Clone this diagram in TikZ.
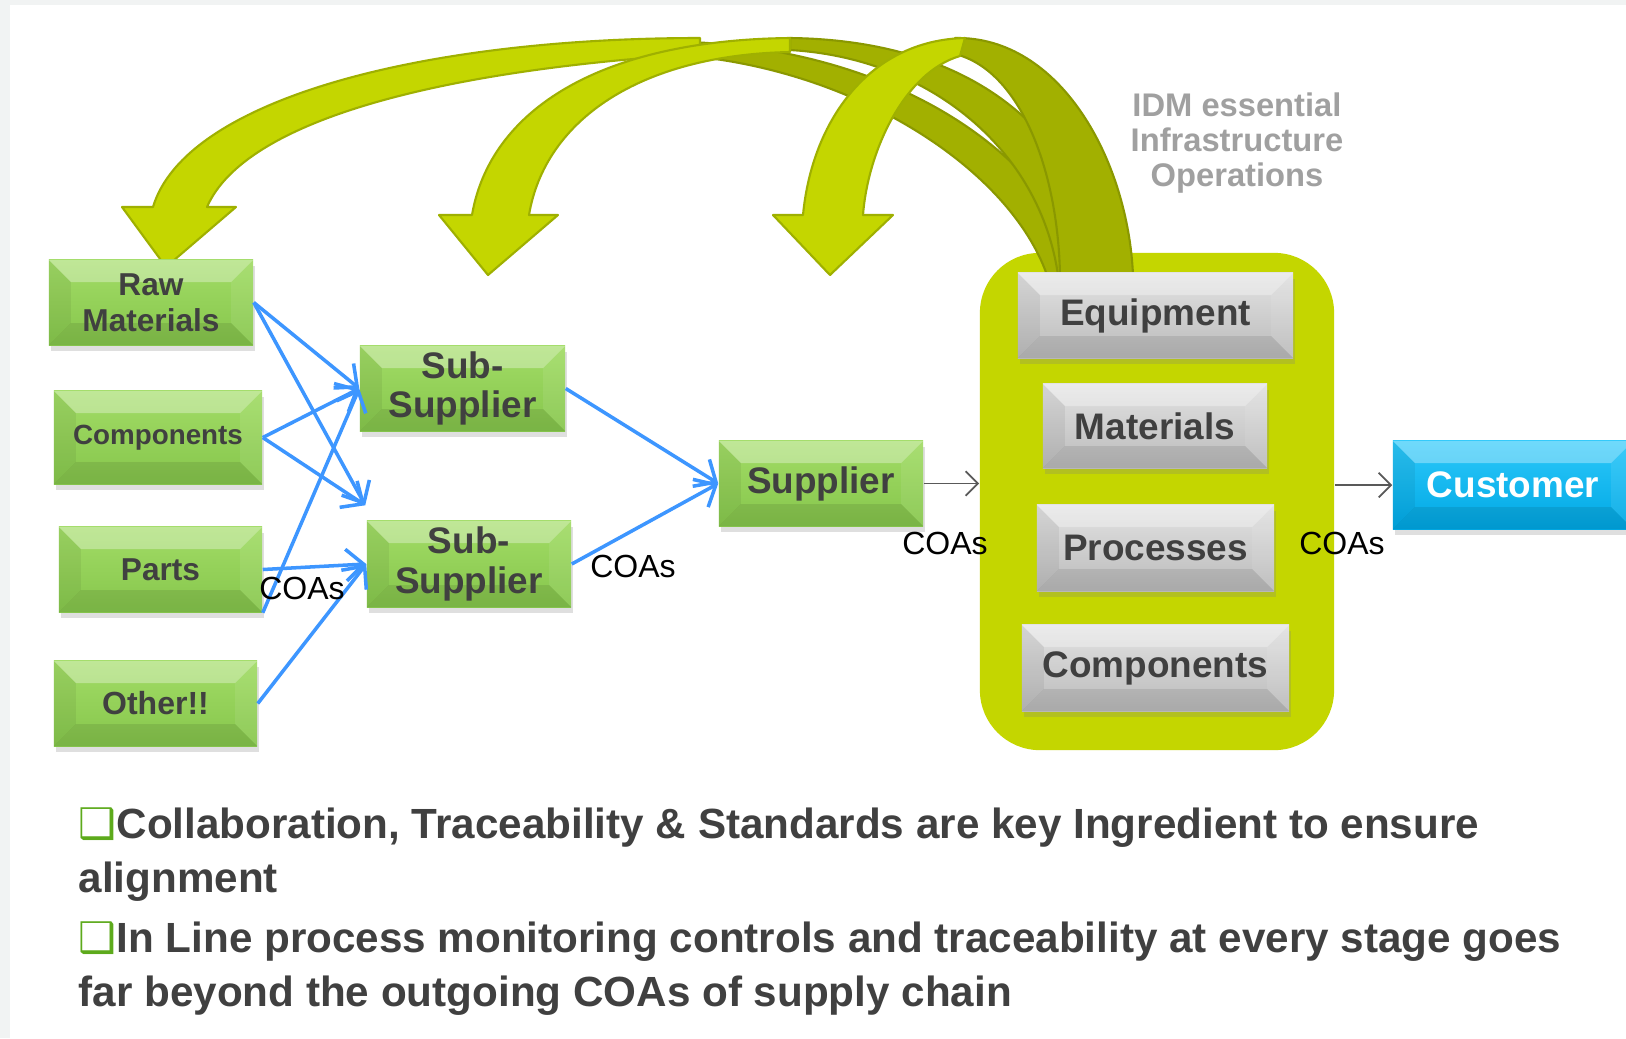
\documentclass[tikz,border=0pt]{standalone}
\usepackage{fontspec}
\setmainfont{Liberation Sans}
\newfontfamily\symbfont{DejaVu Sans}
\usetikzlibrary{arrows.meta, calc, shadows}

\definecolor{grtop}{HTML}{A2DC66}
\definecolor{grbot}{HTML}{86C64C}
\definecolor{gytop}{HTML}{E2E2E2}
\definecolor{gybot}{HTML}{BBBBBB}
\definecolor{cytop}{HTML}{2CC8FA}
\definecolor{cybot}{HTML}{00A8E4}
\definecolor{idmfill}{HTML}{C4D600}
\definecolor{idmedge}{HTML}{9FB000}
\definecolor{idmdark}{HTML}{A2B000}
\definecolor{idmdarkedge}{HTML}{8A9800}
\definecolor{txtgray}{HTML}{404040}
\definecolor{lblgray}{HTML}{A0A0A0}
\definecolor{feedblue}{HTML}{3D96FF}
\definecolor{bulletgreen}{HTML}{5DAA1C}
\definecolor{stripgray}{HTML}{F1F3F3}

\newcommand{\bevsz}{0.22cm}

\tikzstyle{bevel} = [path picture={
  \fill[white, fill opacity=0.32] (path picture bounding box.north west) -- (path picture bounding box.north east) -- ([xshift=-\bevsz, yshift=-\bevsz]path picture bounding box.north east) -- ([xshift=\bevsz, yshift=-\bevsz]path picture bounding box.north west) -- cycle;
  \fill[black, fill opacity=0.06] (path picture bounding box.north west) -- ([xshift=\bevsz, yshift=-\bevsz]path picture bounding box.north west) -- ([xshift=\bevsz, yshift=\bevsz]path picture bounding box.south west) -- (path picture bounding box.south west) -- cycle;
  \fill[white, fill opacity=0.08] (path picture bounding box.north east) -- ([xshift=-\bevsz, yshift=-\bevsz]path picture bounding box.north east) -- ([xshift=-\bevsz, yshift=\bevsz]path picture bounding box.south east) -- (path picture bounding box.south east) -- cycle;
  \fill[black, fill opacity=0.09] (path picture bounding box.south west) -- ([xshift=\bevsz, yshift=\bevsz]path picture bounding box.south west) -- ([xshift=-\bevsz, yshift=\bevsz]path picture bounding box.south east) -- (path picture bounding box.south east) -- cycle;
}]
\tikzstyle{basebox} = [rectangle, inner sep=0pt, align=center, text=txtgray, font=\bfseries\fontsize{10.5}{11.2}\selectfont, minimum height=0.85cm, drop shadow={opacity=0.25, shadow xshift=0.6pt, shadow yshift=-1.6pt}, bevel]
\tikzstyle{greenbox} = [basebox, top color=grtop, bottom color=grbot]
\tikzstyle{greybox} = [basebox, top color=gytop, bottom color=gybot]
\tikzstyle{custbox} = [basebox, top color=cytop, bottom color=cybot, text=white]
\tikzstyle{idmbox} = [rectangle, rounded corners=0.6cm, fill=idmfill, minimum width=3.54cm, minimum height=4.97cm]
\tikzstyle{backpart} = [fill=idmdark, draw=idmdarkedge, line width=0.6pt, line join=round]
\tikzstyle{frontpart} = [fill=idmfill, draw=idmedge, line width=0.6pt, line join=round]
\tikzstyle{feed} = [draw=feedblue, line width=1pt, -{Straight Barb[length=5pt, width=9pt]}]
\tikzstyle{flow} = [draw=black!65, line width=0.5pt, -{Straight Barb[length=3.5pt, width=7pt]}]
\tikzstyle{coas} = [font=\fontsize{9.1}{11}\selectfont, inner sep=0pt]
\tikzstyle{notetext} = [anchor=base west, inner sep=0pt, align=left, text=txtgray, font=\bfseries\fontsize{12}{15.1}\selectfont]

\begin{document}
\begin{tikzpicture}[x=0.01cm, y=-0.01cm]
  % slide background
  \fill[stripgray] (0,0) rectangle (1626,1038);
  \fill[white] (10,5) rectangle (1626,1038);
  \useasboundingbox (0,0) rectangle (1626,1038);

  \node (idm) [idmbox] at (1157,501.5) {};

  % big curved arrows out of the IDM block
  \filldraw[backpart] (690,42) .. controls (880,50) and (1040,140) .. (1085,275) -- (1047,275) .. controls (1010,170) and (860,72) .. (690,56) -- cycle;
  \filldraw[backpart] (790,38) .. controls (960,40) and (1080,120) .. (1105,275) -- (1058,275) .. controls (1040,150) and (930,58) .. (790,50) -- cycle;
  \filldraw[backpart] (955,38) .. controls (1060,36) and (1128,160) .. (1133,275) -- (1060,275) .. controls (1058,170) and (1020,70) .. (955,54) -- cycle;
  \filldraw[frontpart] (700,38) .. controls (420,38) and (185,100) .. (153,207) -- (122,207) -- (166,267) -- (236,207) -- (207,207) .. controls (245,120) and (440,70) .. (700,54) -- cycle;
  \filldraw[frontpart] (790,38) .. controls (600,40) and (490,110) .. (472,215) -- (439,215) -- (488,275) -- (558,215) -- (529,215) .. controls (545,120) and (640,55) .. (790,52) -- cycle;
  \filldraw[frontpart] (965,38) .. controls (870,40) and (812,120) .. (803,215) -- (773,215) -- (830,275) -- (893,215) -- (863,215) .. controls (868,150) and (905,72) .. (960,56) -- cycle;

  \node (idmlabel) [text=lblgray, font=\bfseries\fontsize{9.3}{10}\selectfont, align=center] at (1237,143) {IDM essential\\Infrastructure\\Operations};

  % inside the IDM block
  \node (equip) [greybox, minimum width=2.75cm] at (1155.5,315.5) {Equipment};
  \node (mat) [greybox, minimum width=2.24cm, minimum height=0.84cm] at (1155,426) {Materials};
  \node (proc) [greybox, minimum width=2.37cm, minimum height=0.86cm] at (1155.5,548) {Processes};
  \node (comp2) [greybox, minimum width=2.67cm, minimum height=0.86cm] at (1155.5,668) {Components};

  % supply chain
  \node (raw) [greenbox, minimum width=2.04cm, font=\bfseries\fontsize{9}{10.3}\selectfont] at (151,302.5) {Raw\\Materials};
  \node (comp) [greenbox, minimum width=2.08cm, minimum height=0.93cm, font=\bfseries\fontsize{7.9}{9.5}\selectfont] at (158,437.5) {Components};
  \node (parts) [greenbox, minimum width=2.03cm, font=\bfseries\fontsize{9}{10.3}\selectfont] at (160.5,569.5) {Parts};
  \node (other) [greenbox, minimum width=2.03cm, font=\bfseries\fontsize{9.1}{10.3}\selectfont] at (155.5,703.5) {Other!!};
  \node (sub1) [greenbox, minimum width=2.05cm] at (462.5,388.5) {Sub-\\Supplier};
  \node (sub2) [greenbox, minimum width=2.04cm, minimum height=0.86cm] at (469,564) {Sub-\\Supplier};
  \node (supp) [greenbox, minimum width=2.04cm] at (821,483.5) {Supplier};
  \node (cust) [custbox, minimum width=2.4cm, minimum height=0.88cm] at (1513,485) {Customer};
  \coordinate (sub2top) at ($(sub2.north west)+(-1,-15)$);

  \draw[feed] (raw.east) -- (sub1.west);
  \draw[feed] (raw.east) -- (sub2top);
  \draw[feed] (comp.east) -- (sub1.west);
  \draw[feed] (comp.east) -- (sub2top);
  \draw[feed] (parts.east) -- (sub2.west);
  \draw[feed] (parts.south east) -- (sub1.west);
  \draw[feed] (other.east) -- (sub2.west);
  \draw[feed] (sub1.east) -- (supp.west);
  \draw[feed] (sub2.east) -- (supp.west);
  \draw[flow] (supp.east) -- (supp.east -| idm.west);
  \draw[flow] (cust.west -| idm.east) -- (cust.west);

  \node (coas1) [coas] at (302,588) {COAs};
  \node (coas2) [coas] at (633,566) {COAs};
  \node (coas3) [coas] at (945,543) {COAs};
  \node (coas4) [coas] at (1342,543) {COAs};

  % key messages
  \node (note1) [notetext] at (78,892) {{\symbfont\color{bulletgreen}❑}Collaboration, Traceability \& Standards are key Ingredient to ensure\\alignment};
  \node (note2) [notetext] at (78,1006) {{\symbfont\color{bulletgreen}❑}In Line process monitoring controls and traceability at every stage goes\\far beyond the outgoing COAs of supply chain};
\end{tikzpicture}
\end{document}
